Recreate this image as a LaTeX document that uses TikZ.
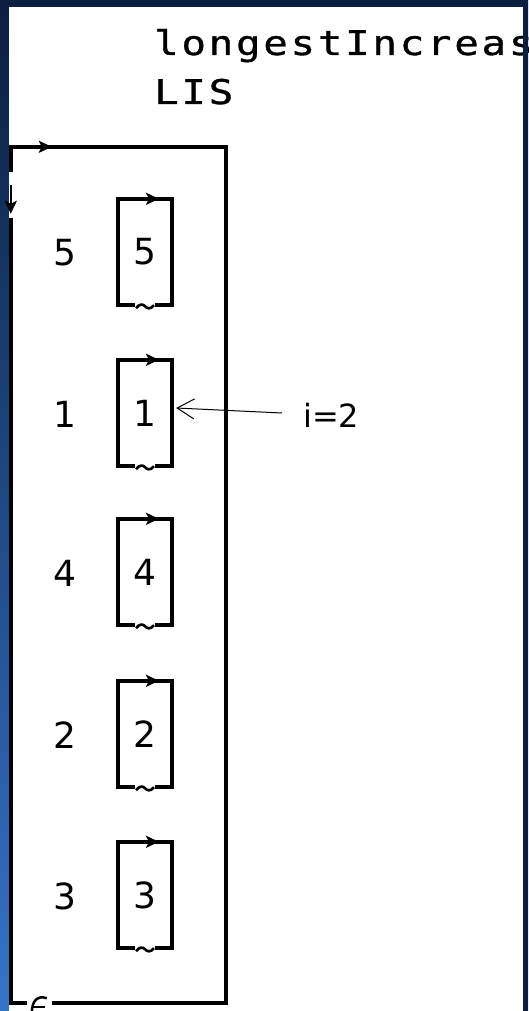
\documentclass[tikz,border=0pt]{standalone}
\usepackage{fontspec}
\setmainfont{DejaVu Sans}
\newfontfamily\aplfont[FakeStretch=1.2,LetterSpace=8,FakeBold=1]{DejaVu Sans Mono}
\usetikzlibrary{arrows.meta,calc}
\definecolor{navy}{HTML}{0A1E40}
\definecolor{deskblue}{HTML}{3474C8}
\begin{document}
\begin{tikzpicture}[x=1pt,y=-1pt,
  rule/.style={line width=3.5pt,line cap=butt,line join=miter},
  glyph/.style={line width=2.6pt,line cap=butt},
  digit/.style={font=\fontsize{36}{36}\selectfont,inner sep=0pt,anchor=center},
  cell/.style={draw=none,minimum width=54pt,minimum height=106pt,inner sep=0pt},
  code/.style={font={\aplfont\fontsize{34}{34}\selectfont},inner sep=0pt,anchor=base west},
  tip/.style={-{Stealth[length=13pt,width=12pt,inset=3pt]}}
]
\useasboundingbox (0,0) rectangle (528,1011);
% window background
\shade[top color=navy,bottom color=deskblue] (0,0) rectangle (528,1011);
\fill[white] (9,7) rectangle (523,1011);

% expression
\node[code] (title) at (154,55) {longestIncreas};
\node[code] (lis) at (154,104) {LIS};

% outer nested array frame
\node[draw=none,minimum width=215pt,minimum height=856pt,inner sep=0pt] (frame) at (118.5,575) {};
\draw[rule] ($(frame.north west)+(0,25)$) -- (frame.north west) -- (frame.north east)
  -- (frame.south east) -- ($(frame.south west)+(41,0)$);
\draw[rule] ($(frame.north west)+(0,71)$) -- (frame.south west) -- ($(frame.south west)+(16,0)$);
\draw[glyph,tip] ($(frame.north west)+(14,0)$) -- ($(frame.north west)+(41,0)$);
\draw[glyph,tip] ($(frame.north west)+(0,38)$) -- ($(frame.north west)+(0,67)$);
% epsilon marker on the bottom edge
\draw[line width=2.5pt] ($(frame.south west)+(36,-5)$) .. controls ($(frame.south west)+(27,-8)$)
  and ($(frame.south west)+(21,-3)$) .. ($(frame.south west)+(21,10)$);
\draw[line width=2.5pt] ($(frame.south west)+(22,4)$) -- ($(frame.south west)+(34,4)$);

% items: plain value and boxed scalar
\foreach \v/\t [count=\k] in {5/199,1/360,4/519,2/681,3/842}{
  \node[cell] (b\k) at (145,\t+53) {};
  \node[digit] (v\k) at (b\k) {\v};
  \node[digit] (u\k) at (65,\t+54) {\v};
  \draw[rule] ($(b\k.south)+(-10,0)$) -- (b\k.south west) -- (b\k.north west)
    -- (b\k.north east) -- (b\k.south east) -- ($(b\k.south)+(10,0)$);
  \draw[glyph,tip] ($(b\k.north)+(-9,0)$) -- ($(b\k.north)+(14,0)$);
  \draw[glyph] ($(b\k.south)+(-9,3)$) .. controls ($(b\k.south)+(-5,-2)$) and ($(b\k.south)+(-2,-1)$)
    .. ($(b\k.south)+(0,1)$) .. controls ($(b\k.south)+(2,3)$) and ($(b\k.south)+(5,5)$)
    .. ($(b\k.south)+(9,0)$);
}

% index pointer
\node[font=\fontsize{32}{32}\selectfont,inner sep=0pt,anchor=base west] (lbl) at (303,427) {i=2};
\coordinate (tail) at (282,413);
\draw[line width=1pt,-{Straight Barb[length=17pt,width=20pt]}] (tail) -- ($(b2.east)+(4,-5)$);

% window edge over the clipped text
\fill[navy] (523,0) rectangle (528,1011);
\end{tikzpicture}
\end{document}
